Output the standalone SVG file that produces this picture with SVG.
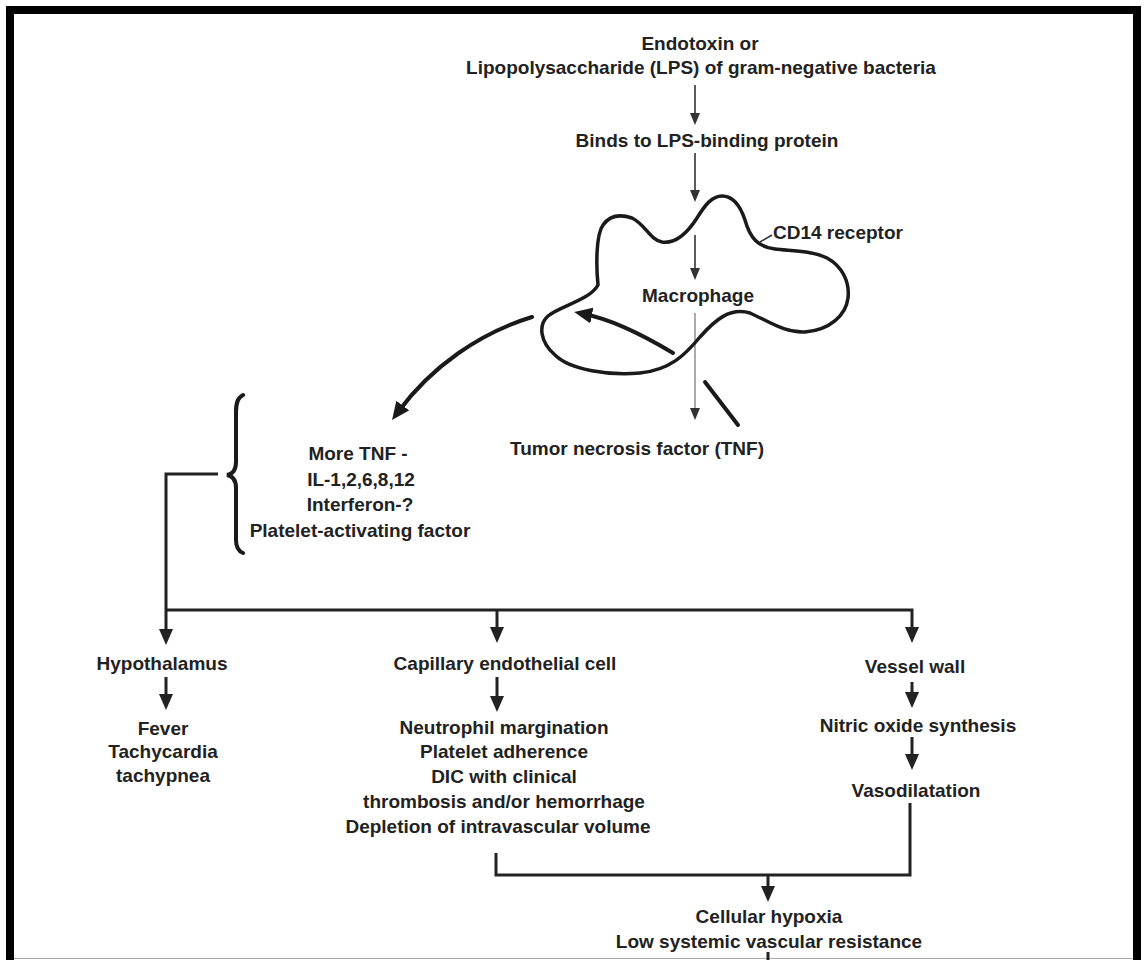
<svg xmlns="http://www.w3.org/2000/svg" width="1145" height="960" viewBox="0 0 1145 960">
<style>
  text { font-family: "Liberation Sans", Arial, sans-serif; font-size: 19px; font-weight: bold; fill: #222; text-anchor: middle; }
  .thin { fill: none; stroke: #333; stroke-width: 1.6; }
  .gray { fill: none; stroke: #888; stroke-width: 1.4; }
  .thick { fill: none; stroke: #222; stroke-width: 3; }
  .heavy { fill: none; stroke: #1a1a1a; stroke-width: 4; stroke-linecap: round; }
</style>
<defs>
  <marker id="ah-thin" markerUnits="userSpaceOnUse" markerWidth="12" markerHeight="12" viewBox="0 0 12 12" refX="6" refY="6" orient="auto">
    <path d="M0,1 L12,6 L0,11 z" fill="#333"/>
  </marker>
  <marker id="ah-thick" markerUnits="userSpaceOnUse" markerWidth="16" markerHeight="14" viewBox="0 0 16 14" refX="8" refY="7" orient="auto">
    <path d="M0,0 L16,7 L0,14 z" fill="#222"/>
  </marker>
  <marker id="ah-heavy" markerUnits="userSpaceOnUse" markerWidth="18" markerHeight="16" viewBox="0 0 18 16" refX="8" refY="8" orient="auto">
    <path d="M0,0 L18,8 L0,16 z" fill="#1a1a1a"/>
  </marker>
</defs>
<rect x="0" y="0" width="1145" height="960" fill="#fff"/>
<g id="frame">
  <path d="M10,960 V10 H1137 V960" fill="none" stroke="#000" stroke-width="8"/>
  <line x1="14" y1="958.5" x2="1133" y2="958.5" stroke="#aaa" stroke-width="1"/>
</g>

<g id="connectors">
  <line class="thin" x1="695" y1="85" x2="695" y2="119" marker-end="url(#ah-thin)"/>
  <line class="thin" x1="695" y1="153" x2="695" y2="196" marker-end="url(#ah-thin)"/>
  <line class="thin" x1="695" y1="235" x2="695" y2="274" marker-end="url(#ah-thin)"/>
  <line class="gray" x1="695" y1="313" x2="695" y2="414" marker-end="url(#ah-thin)"/>
  <line class="thin" x1="760" y1="242" x2="772" y2="235"/>
  <path class="heavy" d="M532,317 C480,333 432,366 398,412" marker-end="url(#ah-heavy)"/>
  <path class="heavy" d="M673,353 C648,338 615,320 584,314" marker-end="url(#ah-heavy)"/>
  <line class="heavy" x1="705" y1="382" x2="738" y2="425"/>
  <path class="heavy" d="M243,395 C237,398 236,404 236,412 L236,462 C236,470 233,474 227,475 C233,476 236,481 236,488 L236,540 C236,547 238,551 243,553" stroke-width="3.5"/>
  <path class="thick" d="M218,474 H166 V637" marker-end="url(#ah-thick)"/>
  <path class="thick" d="M166,610 H912 V635" marker-end="url(#ah-thick)"/>
  <line class="thick" x1="497" y1="610" x2="497" y2="635" marker-end="url(#ah-thick)"/>
  <line class="thick" x1="166" y1="677" x2="166" y2="702" marker-end="url(#ah-thick)"/>
  <line class="thick" x1="497" y1="677" x2="497" y2="704" marker-end="url(#ah-thick)"/>
  <line class="thick" x1="912" y1="682" x2="912" y2="700" marker-end="url(#ah-thick)"/>
  <line class="thick" x1="912" y1="737" x2="912" y2="762" marker-end="url(#ah-thick)"/>
  <path class="thick" d="M496,853 V875 H910 V803"/>
  <line class="thick" x1="768" y1="875" x2="768" y2="894" marker-end="url(#ah-thick)"/>
  <line class="thick" x1="768" y1="952" x2="768" y2="960"/>
</g>

<g id="endotoxin">
  <text x="700" y="50">Endotoxin or</text>
  <text x="701" y="74">Lipopolysaccharide (LPS) of gram-negative bacteria</text>
</g>
<g id="lps-binding">
  <text x="707" y="147">Binds to LPS-binding protein</text>
</g>
<g id="macrophage">
  <path d="M598,285 C596,265 596,235 603,225 C610,215 620,214 632,218 C645,224 650,240 662,242 C676,244 688,232 697,218 C705,205 712,196 722,196 C733,196 740,205 745,220 C750,238 758,247 775,249 C790,251 810,250 827,258 C842,266 850,282 848,298 C846,315 830,330 805,332 C785,333 770,322 750,313 C730,307 715,320 700,337 C685,355 670,370 640,373 C610,376 570,370 555,355 C540,342 538,325 548,316 C560,306 590,300 598,285 Z" fill="none" stroke="#1a1a1a" stroke-width="3.5"/>
  <text x="698" y="302">Macrophage</text>
</g>
<g id="cd14">
  <text x="773" y="239" style="text-anchor:start">CD14 receptor</text>
</g>
<g id="tnf">
  <text x="637" y="455">Tumor necrosis factor (TNF)</text>
</g>
<g id="cytokines">
  <text x="358" y="460">More TNF -</text>
  <text x="361" y="486">IL-1,2,6,8,12</text>
  <text x="360" y="511">Interferon-?</text>
  <text x="360" y="537">Platelet-activating factor</text>
</g>
<g id="hypothalamus">
  <text x="162" y="670">Hypothalamus</text>
</g>
<g id="fever">
  <text x="163" y="735">Fever</text>
  <text x="163" y="758">Tachycardia</text>
  <text x="163" y="782">tachypnea</text>
</g>
<g id="capillary">
  <text x="505" y="670">Capillary endothelial cell</text>
</g>
<g id="neutrophil">
  <text x="504" y="734">Neutrophil margination</text>
  <text x="504" y="758">Platelet adherence</text>
  <text x="504" y="783">DIC with clinical</text>
  <text x="504" y="808">thrombosis and/or hemorrhage</text>
  <text x="498" y="833">Depletion of intravascular volume</text>
</g>
<g id="vessel">
  <text x="915" y="673">Vessel wall</text>
</g>
<g id="nitric">
  <text x="918" y="732">Nitric oxide synthesis</text>
</g>
<g id="vasodilatation">
  <text x="916" y="797">Vasodilatation</text>
</g>
<g id="hypoxia">
  <text x="769" y="923">Cellular hypoxia</text>
  <text x="769" y="948">Low systemic vascular resistance</text>
</g>
</svg>
